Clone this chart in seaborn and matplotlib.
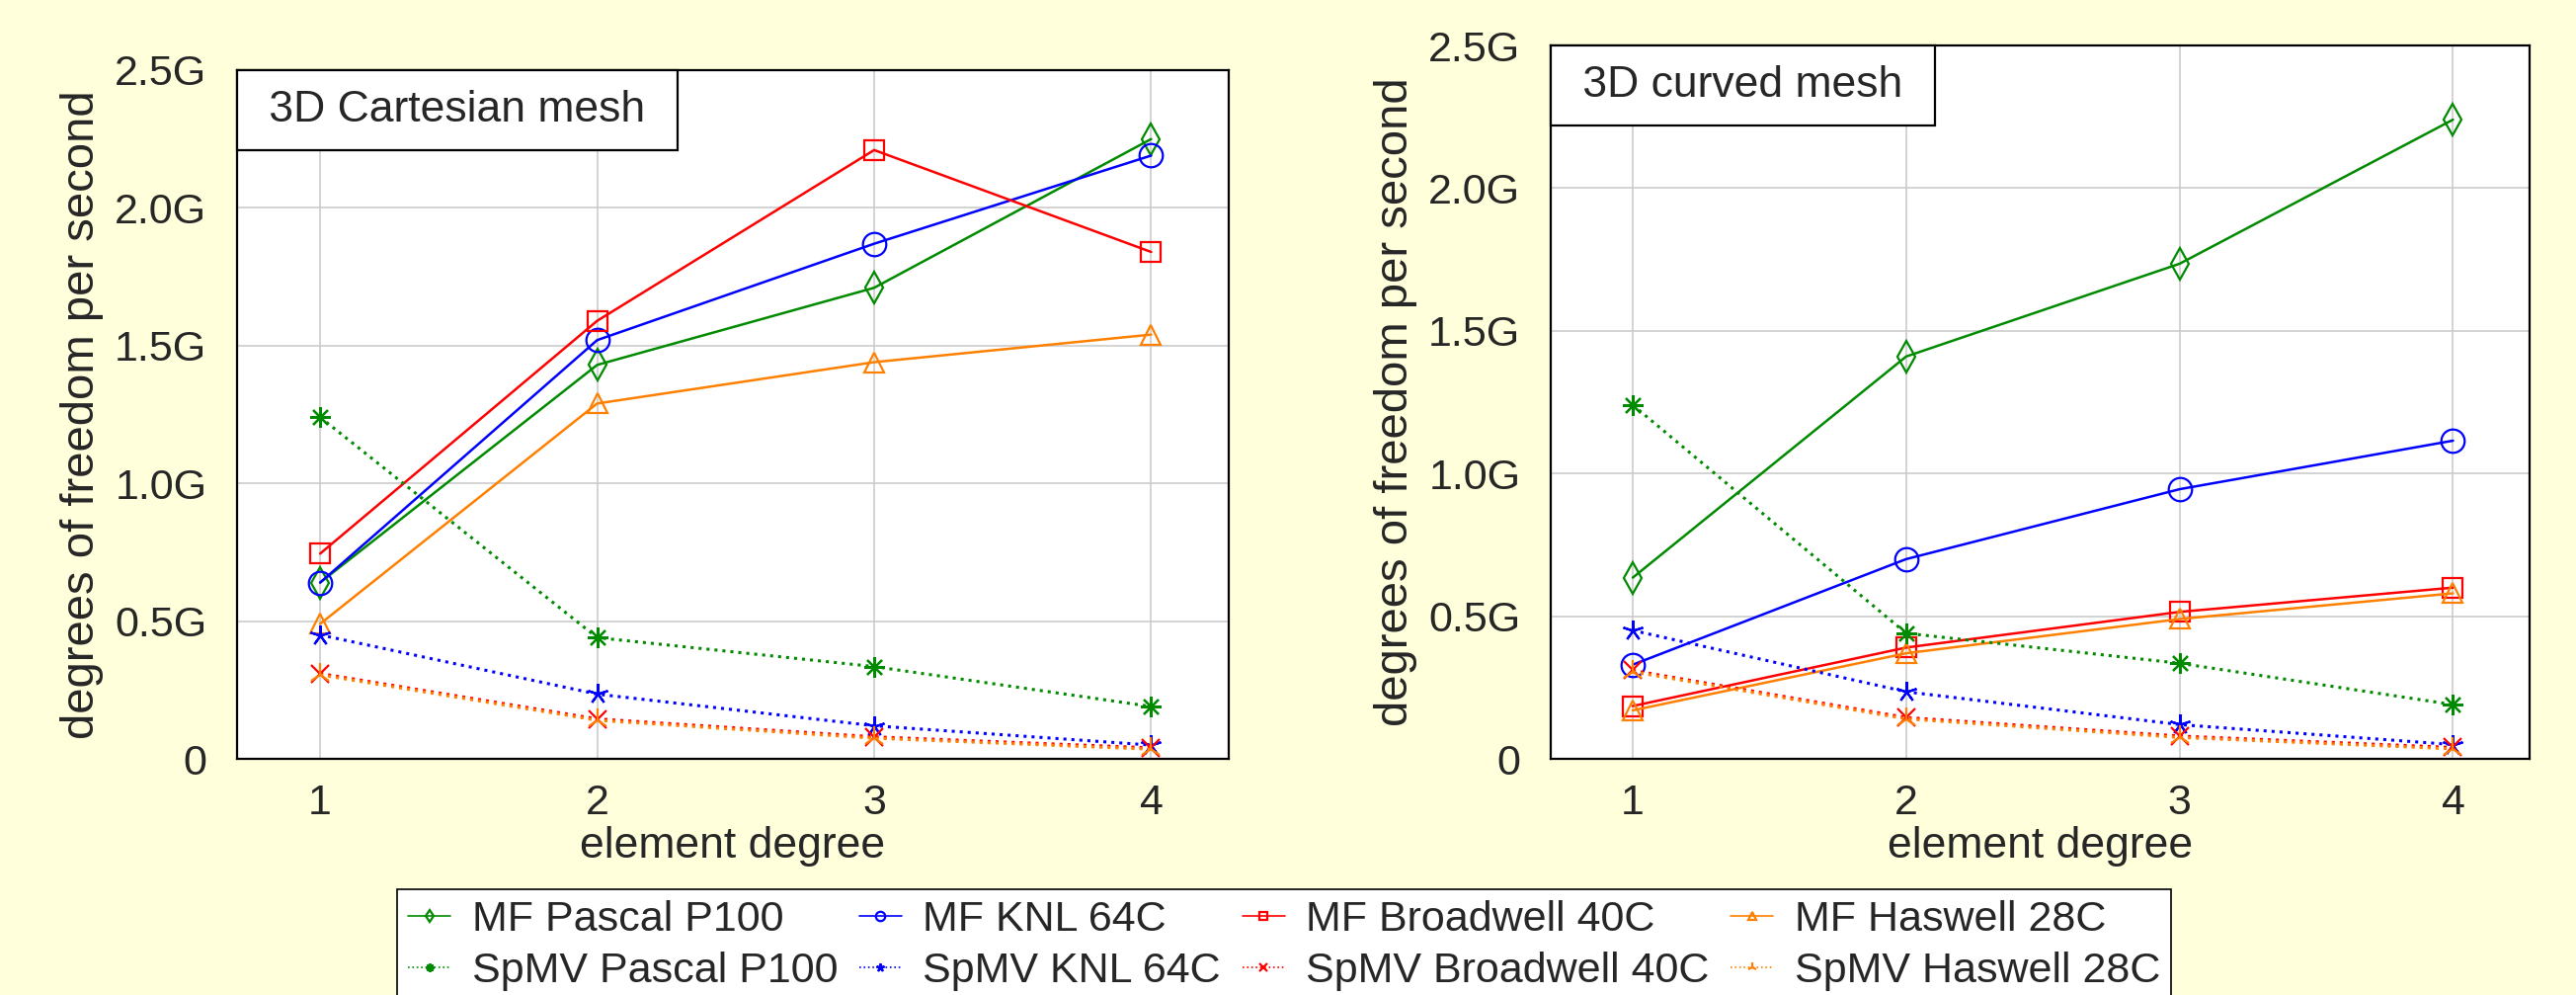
import matplotlib
matplotlib.use("Agg")
import matplotlib.pyplot as plt
import seaborn as sns
from matplotlib.offsetbox import AnchoredText
from matplotlib.ticker import FuncFormatter, MultipleLocator

# element degree on the x axis
degrees = [1, 2, 3, 4]

# 3D Cartesian mesh (dofs per second, in G)
cart_mf_pascal = [0.64, 1.43, 1.71, 2.25]
cart_mf_knl = [0.64, 1.52, 1.87, 2.19]
cart_mf_broadwell = [0.745, 1.59, 2.21, 1.84]
cart_mf_haswell = [0.49, 1.29, 1.44, 1.54]
cart_spmv_pascal = [1.24, 0.44, 0.335, 0.19]
cart_spmv_knl = [0.45, 0.235, 0.12, 0.05]
cart_spmv_broadwell = [0.31, 0.145, 0.08, 0.04]
cart_spmv_haswell = [0.305, 0.14, 0.075, 0.035]

# 3D curved mesh
curv_mf_pascal = [0.635, 1.41, 1.735, 2.24]
curv_mf_knl = [0.33, 0.70, 0.945, 1.115]
curv_mf_broadwell = [0.185, 0.39, 0.515, 0.60]
curv_mf_haswell = [0.17, 0.37, 0.49, 0.58]
curv_spmv_pascal = [1.24, 0.44, 0.335, 0.19]
curv_spmv_knl = [0.45, 0.235, 0.12, 0.05]
curv_spmv_broadwell = [0.31, 0.145, 0.08, 0.04]
curv_spmv_haswell = [0.305, 0.14, 0.075, 0.035]

labels = ["MF Pascal P100", "MF KNL 64C", "MF Broadwell 40C", "MF Haswell 28C",
          "SpMV Pascal P100", "SpMV KNL 64C", "SpMV Broadwell 40C", "SpMV Haswell 28C"]

cart_data = [cart_mf_pascal, cart_mf_knl, cart_mf_broadwell, cart_mf_haswell,
             cart_spmv_pascal, cart_spmv_knl, cart_spmv_broadwell, cart_spmv_haswell]
curv_data = [curv_mf_pascal, curv_mf_knl, curv_mf_broadwell, curv_mf_haswell,
             curv_spmv_pascal, curv_spmv_knl, curv_spmv_broadwell, curv_spmv_haswell]

GREEN, BLUE, RED, ORANGE = "#008a00", "#0000ff", "#ff0000", "#ff8000"
colors = [GREEN, BLUE, RED, ORANGE, GREEN, BLUE, RED, ORANGE]
markers = ["d", "o", "s", "^", (8, 2, 0), (5, 2, 0), "x", "2"]
msizes = [16, 17, 15, 15, 15, 15, 13, 17]
styles = ["-", "-", "-", "-", ":", ":", ":", ":"]

sns.set_style("white")
plt.rcParams["font.family"] = ["Liberation Sans", "DejaVu Sans"]

fig = plt.figure(figsize=(26.08, 10.07), dpi=100, facecolor="#ffffdc")
ax1 = fig.add_axes([240 / 2608, 1 - 768 / 1007, 1004 / 2608, 697 / 1007])
ax2 = fig.add_axes([1570 / 2608, 1 - 768 / 1007, 991 / 2608, 722 / 1007])


def gfmt(v, pos):
    return "0" if abs(v) < 1e-9 else f"{v:.1f}G"


for ax, data, title in [(ax1, cart_data, "3D Cartesian mesh"),
                        (ax2, curv_data, "3D curved mesh")]:
    ax.set_facecolor("white")
    for vals, lab, c, m, ms, ls in zip(data, labels, colors, markers, msizes, styles):
        lw = 1.8 if ls == "-" else 2.2
        sns.lineplot(x=degrees, y=vals, ax=ax, color=c, marker=m, markersize=ms,
                     linestyle=ls, linewidth=lw, mfc="none", mec=c, mew=1.6,
                     label=lab, legend=False)
    ax.set_xlim(0.7, 4.28)
    ax.set_ylim(0, 2.5)
    ax.xaxis.set_major_locator(MultipleLocator(1))
    ax.yaxis.set_major_locator(MultipleLocator(0.5))
    ax.yaxis.set_major_formatter(FuncFormatter(gfmt))
    ax.grid(True, color="#c8c8c8", linewidth=1.1)
    ax.set_axisbelow(True)
    ax.tick_params(axis="both", length=0, labelsize=31)
    ax.tick_params(axis="y", pad=22)
    ax.tick_params(axis="x", pad=18)
    for s in ax.spines.values():
        s.set_visible(True)
        s.set_color("black")
        s.set_linewidth(1.6)
    ax.set_xlabel("element degree", fontsize=32, labelpad=2)
    ax.set_ylabel("degrees of freedom per second", fontsize=34, labelpad=8)
    at = AnchoredText(" " + title + " ", loc="upper left", borderpad=0, pad=0.45,
                      prop=dict(size=32), frameon=True)
    at.patch.set_edgecolor("black")
    at.patch.set_linewidth(1.6)
    at.patch.set_boxstyle("square,pad=0")
    ax.add_artist(at)

handles, labs = ax1.get_legend_handles_labels()
order = [0, 4, 1, 5, 2, 6, 3, 7]
leg = fig.legend([handles[i] for i in order], [labs[i] for i in order],
                 loc="upper center", bbox_to_anchor=(0.4985, 1 - 900 / 1007),
                 borderaxespad=0, ncol=4, fontsize=31, frameon=True,
                 fancybox=False, edgecolor="black", framealpha=1,
                 handlelength=1.0, handletextpad=0.5, columnspacing=0.5,
                 labelspacing=0.28, borderpad=0.25, markerscale=0.4)
leg.get_frame().set_linewidth(1.2)
for line in leg.get_lines():
    line.set_linewidth(1.2)

fig.savefig("out.png", dpi=100, facecolor=fig.get_facecolor())
